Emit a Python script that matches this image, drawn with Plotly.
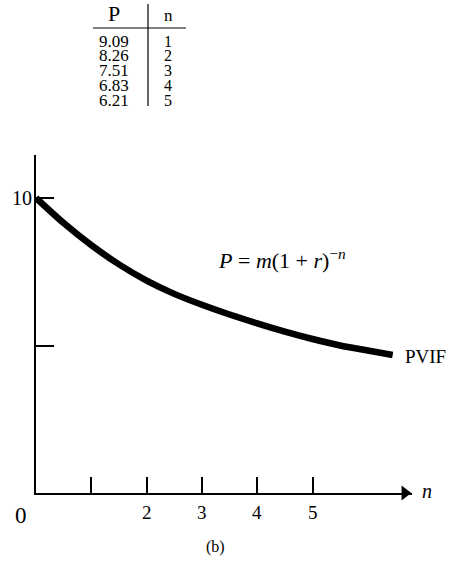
import plotly.graph_objects as go

# ---- data ----
curve_n = [0, 0.5, 1, 1.5, 2, 2.5, 3, 3.5, 4, 4.5, 5, 5.5, 6, 6.45]
curve_P = [10.0, 9.15, 8.4, 7.75, 7.2, 6.75, 6.38, 6.05, 5.75, 5.47, 5.22, 5.0, 4.83, 4.68]
table_P = ["9.09", "8.26", "7.51", "6.83", "6.21"]
table_n = ["1", "2", "3", "4", "5"]
x_tickvals = [1, 2, 3, 4, 5]
x_labels = ["2", "3", "4", "5"]
x_label_vals = [2, 3, 4, 5]
y_tickvals = [5, 10]
y_labels = ["10"]
y_label_vals = [10]

W, H = 451, 561
# reference pixel positions: y-axis at x=36, top at y=155, x-axis at y=493, end x=412
L = 36
T = 155
B = H - 493
R = W - 412
PW, PH = W - L - R, H - T - B
XMAX, YMAX = PW / 55.3, PH / 29.5


def pxx(xp):
    return (xp - L) / PW


def pyy(yp):
    return (H - B - yp) / PH


FONT = "Liberation Serif"

fig = go.Figure()
fig.add_trace(go.Scatter(x=curve_n, y=curve_P, mode="lines",
                         line=dict(color="black", width=6.5, shape="spline", smoothing=0.8),
                         hoverinfo="skip", showlegend=False))
# arrow head at end of x axis
fig.add_trace(go.Scatter(x=[XMAX - 0.13], y=[0], mode="markers",
                         marker=dict(symbol="triangle-right", size=13, color="black"),
                         cliponaxis=False, hoverinfo="skip", showlegend=False))

fig.update_layout(
    width=W, height=H, margin=dict(l=L, r=R, t=T, b=B, autoexpand=False),
    paper_bgcolor="white", plot_bgcolor="white", showlegend=False,
    font=dict(family=FONT, color="black", size=16),
    xaxis=dict(range=[0, XMAX], showgrid=False, zeroline=False, showline=True,
               linecolor="black", linewidth=1.5, ticks="inside", ticklen=16,
               tickwidth=1.5, tickcolor="black", tickvals=x_tickvals,
               showticklabels=False),
    yaxis=dict(range=[0, YMAX], showgrid=False, zeroline=False, showline=True,
               linecolor="black", linewidth=1.5, ticks="inside", ticklen=18,
               tickwidth=1.5, tickcolor="black", tickvals=y_tickvals,
               showticklabels=False),
)


def txt(x, y, s, size, xanchor="center", xref="paper", yref="paper"):
    return dict(x=x, y=y, xref=xref, yref=yref, text=s, showarrow=False,
                xanchor=xanchor, yanchor="middle", font=dict(size=size))


ann = []
for v, s in zip(x_label_vals, x_labels):
    ann.append(txt(v, pyy(512), s, 19, xref="x"))
for v, s in zip(y_label_vals, y_labels):
    ann.append(txt(pxx(22), v, s, 20, yref="y"))
ann.append(txt(pxx(21), pyy(515), "0", 23))
ann.append(txt(pxx(420), pyy(491), "<i>n</i>", 20, xanchor="left"))
ann.append(txt(pxx(403), pyy(356), "PVIF", 19, xanchor="left"))
ann.append(txt(pxx(282), pyy(259),
               "<i>P</i> = <i>m</i>(1 + <i>r</i>)<sup>\u2212<i>n</i></sup>", 22))
ann.append(txt(pxx(215), pyy(547), "(b)", 16))
# table
ann.append(txt(pxx(114), pyy(13), "P", 22))
ann.append(txt(pxx(168), pyy(15), "n", 17))
for i, (p, n) in enumerate(zip(table_P, table_n)):
    yp = 41 + i * 14.8
    ann.append(txt(pxx(131), pyy(yp), p, 17, xanchor="right"))
    ann.append(txt(pxx(168), pyy(yp), n, 16))
fig.update_layout(annotations=ann)

fig.add_shape(type="line", xref="paper", yref="paper", x0=pxx(93), x1=pxx(186),
              y0=pyy(28), y1=pyy(28), line=dict(color="black", width=1.2))
fig.add_shape(type="line", xref="paper", yref="paper", x0=pxx(148), x1=pxx(148),
              y0=pyy(4), y1=pyy(106), line=dict(color="black", width=1.2))

fig.write_html("out.html", config={"displayModeBar": False},
               post_script="document.body.style.margin='0';document.body.style.padding='0';")
